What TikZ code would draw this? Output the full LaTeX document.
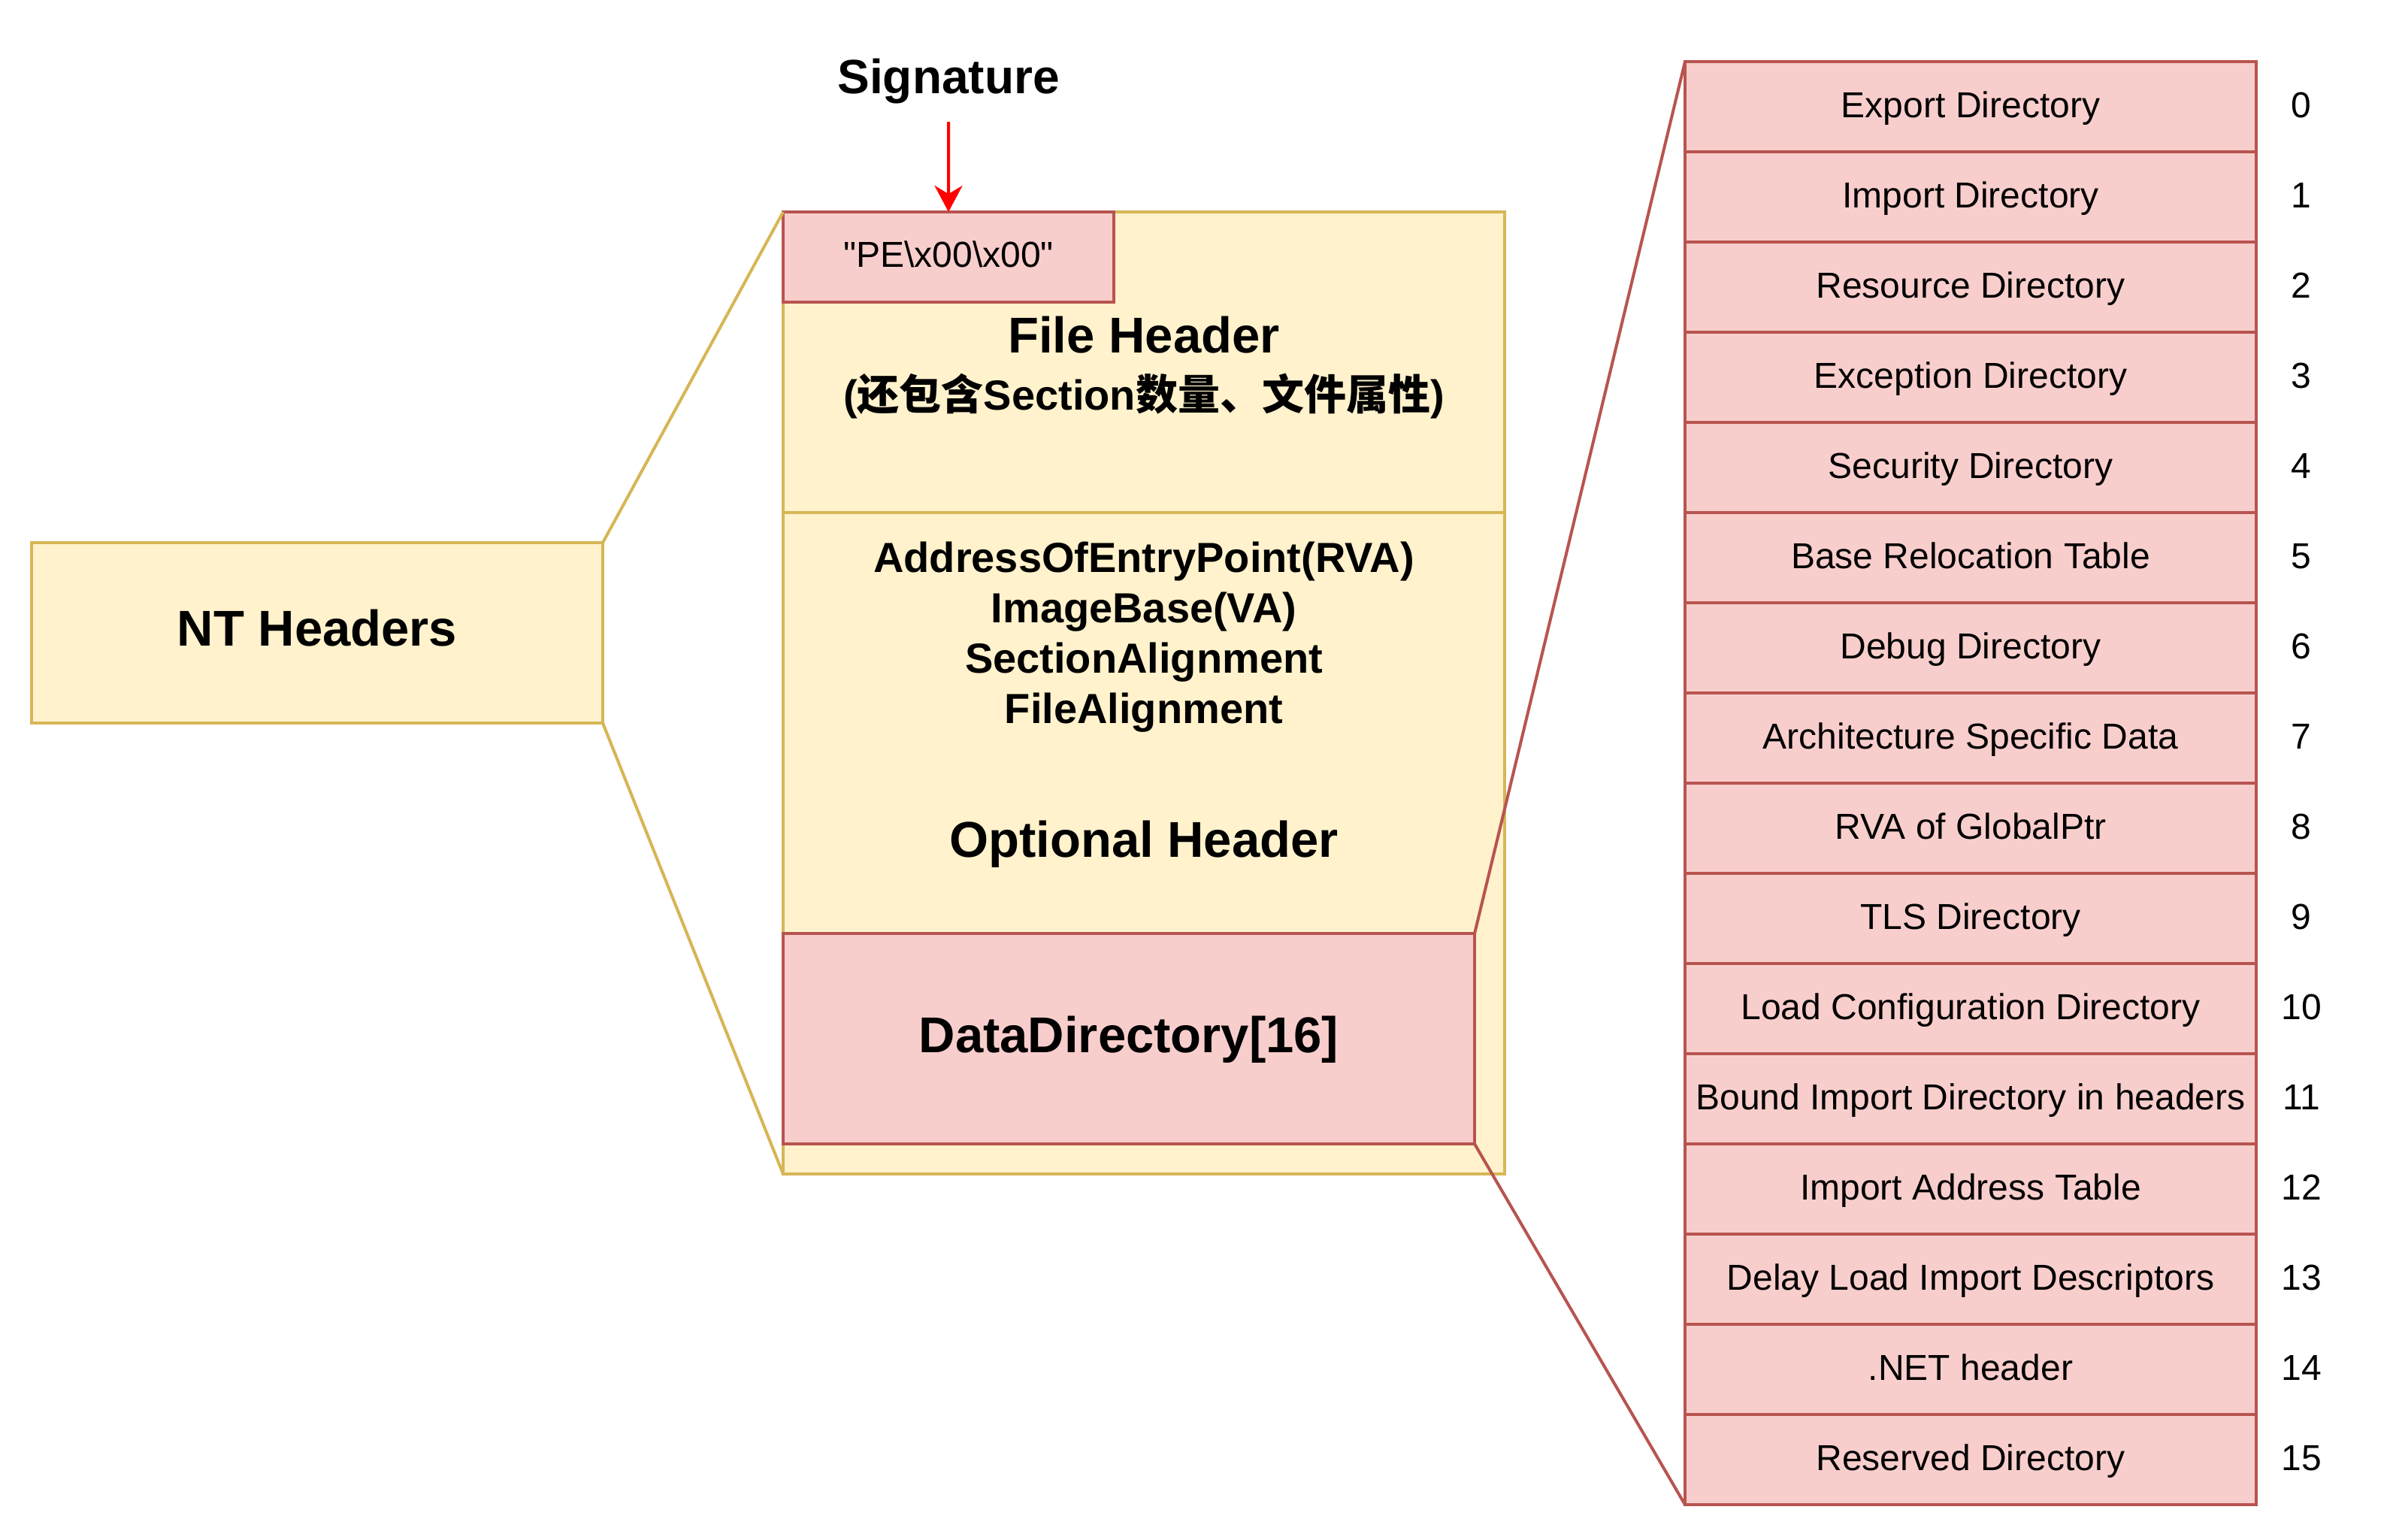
\documentclass[tikz,border=0pt]{standalone}
\usepackage{fontspec}
\setmainfont{Liberation Sans}
\newfontfamily\cjk{Noto Sans CJK SC}
\usetikzlibrary{arrows.meta,positioning,calc}
\definecolor{hdrfill}{HTML}{FFF2CC}
\definecolor{hdrline}{HTML}{D6B656}
\definecolor{dirfill}{HTML}{F8CECC}
\definecolor{dirline}{HTML}{B85450}
\newcommand{\cellfont}{\fontsize{13.66pt}{16.4pt}\selectfont}
\newcommand{\fieldfont}{\fontsize{15.93pt}{19.1pt}\selectfont\bfseries}
\newcommand{\sigfont}{\fontsize{18.21pt}{21.9pt}\selectfont\bfseries}
\newcommand{\titlefont}{\fontsize{19.06pt}{22.9pt}\selectfont\bfseries}

\begin{document}
\begin{tikzpicture}[
    hdrbox/.style={draw=hdrline, fill=hdrfill, line width=1.14pt, inner sep=0pt, outer sep=0pt},
    dirbox/.style={draw=dirline, fill=dirfill, line width=1.14pt, inner sep=0pt, outer sep=0pt},
    dirrow/.style={dirbox, minimum width=7.6cm, minimum height=1.2cm, font=\cellfont, text height=0.29cm, text depth=0pt},
    idx/.style={font=\cellfont, text height=0.29cm, text depth=0pt},
    zoomline/.style={line width=1.14pt}
]
    \fill[white] (0,0) rectangle (31.84,-20.48);
    \useasboundingbox (0,0) rectangle (31.84,-20.48);

    % NT headers
    \node[hdrbox, minimum width=7.6cm, minimum height=2.4cm, font=\titlefont,
          text height=0.35cm, text depth=0pt] (nt) at (4.22,-8.42) {NT Headers};

    % File header + optional header
    \node[hdrbox, minimum width=9.6cm, minimum height=12.8cm] (body) at (15.22,-9.22) {};
    \draw[hdrline, zoomline] ($(body.north west)+(0,-4)$) -- ($(body.north east)+(0,-4)$);

    \node[dirbox, minimum width=4.4cm, minimum height=1.2cm, font=\cellfont, anchor=north west,
          text height=0.26cm, text depth=0pt] (pe) at (body.north west)
        {\textquotedbl PE\textbackslash x00\textbackslash x00\textquotedbl};

    \node[font=\titlefont, anchor=base] (fhdr) at (15.22,-4.69) {File Header};
    \node[font=\fieldfont, anchor=base] (fhnote) at (15.22,-5.45)
        {({\cjk 还包含}Section{\cjk 数量、文件属性})};

    \foreach \t [count=\i from 0] in {AddressOfEntryPoint(RVA), ImageBase(VA), SectionAlignment, FileAlignment}
        \node[font=\fieldfont, anchor=base] (fld\i) at (15.22,{-7.61-0.67*\i}) {\t};

    \node[font=\titlefont, anchor=base] (ohdr) at (15.22,-11.40) {Optional Header};

    \node[dirbox, minimum width=9.2cm, minimum height=2.8cm, font=\titlefont, anchor=north west,
          text height=0.37cm, text depth=0pt] (dd) at (10.42,-12.42) {DataDirectory[16]};

    % Signature
    \node[font=\sigfont, anchor=base] (sig) at (12.62,-1.244) {Signature};
    \coordinate (sigtail) at (12.62,-1.62);
    \draw[-{Stealth[length=3.5mm,width=3.7mm,inset=1.1mm]}, red, zoomline] (sigtail) -- (pe.north);

    % Data directory entries
    \foreach \name [count=\i from 0] in {Export Directory, Import Directory, Resource Directory,
        Exception Directory, Security Directory, Base Relocation Table, Debug Directory,
        Architecture Specific Data, RVA of GlobalPtr, TLS Directory, Load Configuration Directory,
        Bound Import Directory in headers, Import Address Table, Delay Load Import Descriptors,
        .NET header, Reserved Directory} {
        \node[dirrow] (dir\i) at (26.22,{-1.42-1.2*\i}) {\name};
        \node[idx] (num\i) at ([xshift=6mm]dir\i.east) {\i};
    }

    % Zoom lines
    \draw[hdrline, zoomline] (nt.north east) -- (body.north west);
    \draw[hdrline, zoomline] (nt.south east) -- (body.south west);
    \draw[dirline, zoomline] (dd.north east) -- (dir0.north west);
    \draw[dirline, zoomline] (dd.south east) -- (dir15.south west);
\end{tikzpicture}
\end{document}
